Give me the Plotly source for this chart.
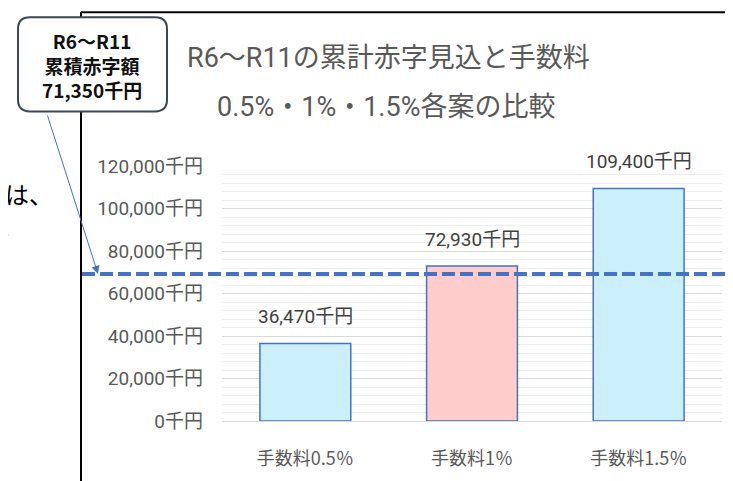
import plotly.graph_objects as go

# ---- data ----
categories = ["手数料0.5％", "手数料1％", "手数料1.5％"]
values = [36470, 72930, 109400]
bar_colors = ["#CCEFFC", "#FFCCCC", "#CCEFFC"]
deficit_label_value = 71350      # value printed in the callout
deficit_line_value = 69200       # where the dashed reference line is drawn in the picture
y_max = 120000
title_line1 = "R6～R11の累計赤字見込と手数料"
title_line2 = "0.5%・1%・1.5%各案の比較"
callout_lines = ["R6～R11", "累積赤字額", f"{deficit_label_value:,}千円"]

# ---- layout geometry (page has an 8px body margin) ----
OFF = 8
FW, FH = 733 - OFF, 481 - OFF
L, R, T, B = 222 - OFF, 11, 166 - OFF, 58
PW, PH = FW - L - R, FH - T - B


def px_x(px):
    return (px - OFF - L) / PW


def px_y(py):
    return (FH - B - (py - OFF)) / PH


NUM_FONT = "Roboto, Noto Sans CJK JP, sans-serif"
JP_FONT = "Noto Sans CJK JP, sans-serif"

fig = go.Figure()
fig.add_trace(go.Bar(
    x=categories, y=values,
    marker=dict(color=bar_colors, line=dict(color="#4472C4", width=1.5)),
    hoverinfo="skip", showlegend=False,
))

annotations = []
# data labels
for c, v in zip(categories, values):
    annotations.append(dict(
        x=c, y=v, xref="x", yref="y", text=f"{v:,}千円", showarrow=False,
        yanchor="middle", yshift=27,
        font=dict(family=NUM_FONT, size=19, color="#404040"),
    ))

# titles
annotations.append(dict(x=px_x(388), y=px_y(57), xref="paper", yref="paper",
                        text=title_line1, showarrow=False, xanchor="center", yanchor="middle",
                        font=dict(family=NUM_FONT, size=27, color="#595959")))
annotations.append(dict(x=px_x(386), y=px_y(107), xref="paper", yref="paper",
                        text=title_line2, showarrow=False, xanchor="center", yanchor="middle",
                        font=dict(family=NUM_FONT, size=27, color="#595959")))

# callout text
annotations.append(dict(x=px_x(92), y=px_y(64.5), xref="paper", yref="paper",
                        text="<b>" + "<br>".join(callout_lines) + "</b>", showarrow=False,
                        xanchor="center", yanchor="middle", align="center",
                        font=dict(family=JP_FONT, size=19, color="#111111")))

# pointer arrow (tail offset in pixels)
annotations.append(dict(x=px_x(98), y=deficit_line_value, xref="paper", yref="y",
                        ax=-51, ay=-160, axref="pixel", ayref="pixel",
                        text="", showarrow=True, arrowhead=2, arrowsize=1.6,
                        arrowwidth=1, arrowcolor="#4472C4"))

# cut-off body text at left edge
annotations.append(dict(x=px_x(3), y=px_y(194), xref="paper", yref="paper",
                        text="は、", showarrow=False, xanchor="left", yanchor="middle",
                        font=dict(family=JP_FONT, size=24, color="#000000")))
annotations.append(dict(x=px_x(13), y=px_y(236), xref="paper", yref="paper",
                        text="を", showarrow=False, xanchor="right", yanchor="middle",
                        font=dict(family=JP_FONT, size=24, color="#000000")))

# callout rounded rectangle
x0, x1, y0, y1, rad = 18, 167, 16, 111, 12
def P(px, py):
    return f"{px_x(px)},{px_y(py)}"
path = (f"M {P(x0 + rad, y0)} L {P(x1 - rad, y0)} Q {P(x1, y0)} {P(x1, y0 + rad)} "
        f"L {P(x1, y1 - rad)} Q {P(x1, y1)} {P(x1 - rad, y1)} "
        f"L {P(x0 + rad, y1)} Q {P(x0, y1)} {P(x0, y1 - rad)} "
        f"L {P(x0, y0 + rad)} Q {P(x0, y0)} {P(x0 + rad, y0)} Z")

shapes = [
    # frame lines
    dict(type="line", xref="paper", yref="paper", x0=px_x(81), x1=px_x(745),
         y0=px_y(11), y1=px_y(11), line=dict(color="#000000", width=2)),
    dict(type="line", xref="paper", yref="paper", x0=px_x(81), x1=px_x(81),
         y0=px_y(11), y1=px_y(490), line=dict(color="#000000", width=2)),
    # dashed reference line
    dict(type="line", xref="paper", yref="y", x0=px_x(82), x1=px_x(745),
         y0=deficit_line_value, y1=deficit_line_value,
         line=dict(color="#4472C4", width=4, dash="13px,5px"), layer="above"),
    # callout box
    dict(type="path", xref="paper", yref="paper", path=path,
         fillcolor="#FFFFFF", line=dict(color="#3B4656", width=2)),
]

fig.update_layout(
    width=FW, height=FH,
    margin=dict(l=L, r=R, t=T, b=B, pad=0),
    paper_bgcolor="#FFFFFF", plot_bgcolor="#FFFFFF",
    bargap=0.455,
    annotations=annotations, shapes=shapes,
    showlegend=False,
)
fig.update_xaxes(
    showgrid=False, zeroline=False, showline=False,
    ticks="", ticklabelstandoff=25,
    tickfont=dict(family=JP_FONT, size=18, color="#595959"),
)
fig.update_yaxes(
    range=[0, y_max], dtick=20000, tickformat=",d", ticksuffix="千円",
    showgrid=True, gridcolor="#D9D9D9", gridwidth=1,
    minor=dict(dtick=4000, showgrid=True, gridcolor="#EDEDED", gridwidth=1),
    zeroline=True, zerolinecolor="#D9D9D9", zerolinewidth=1,
    showline=False, ticks="", ticklabelstandoff=18,
    tickfont=dict(family=NUM_FONT, size=19, color="#595959"),
)

fig.write_html("out.html")
